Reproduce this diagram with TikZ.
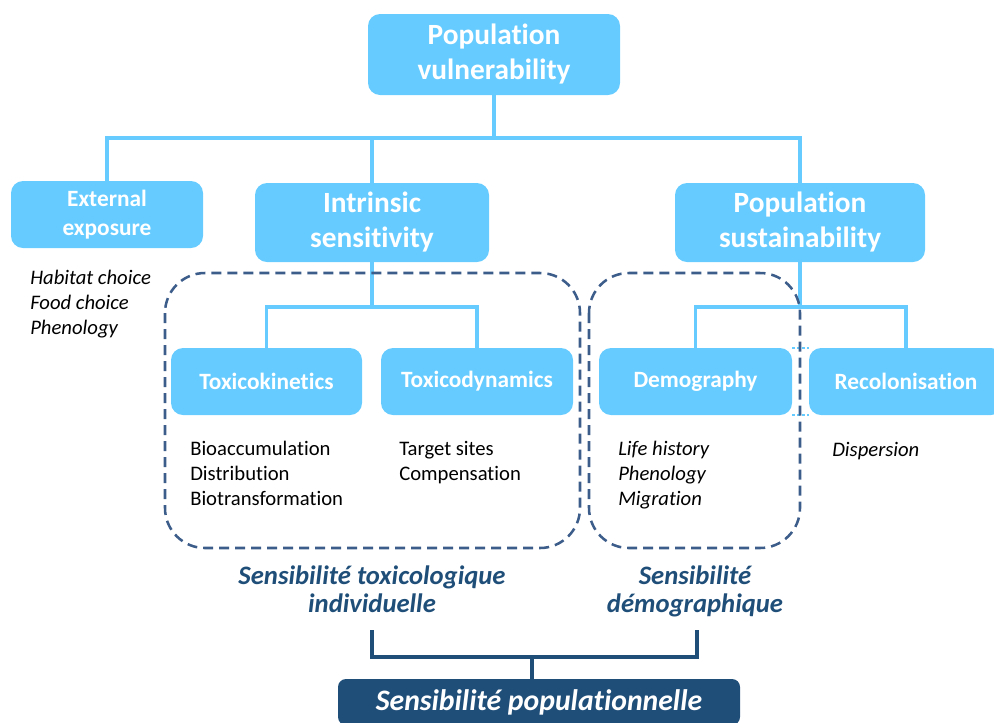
\documentclass[tikz,border=0pt]{standalone}
\usepackage{fontspec}
\setmainfont{Carlito}[Ligatures=NoCommon]
\definecolor{lb}{RGB}{102,204,255}
\definecolor{db}{RGB}{31,78,121}
\definecolor{dashc}{RGB}{60,92,138}
\begin{document}
\begin{tikzpicture}[x=0.75pt,y=-0.75pt,
  box/.style={fill=lb, draw=none, rounded corners=9pt, text=white, align=center, inner sep=0pt},
  bigtxt/.style={font=\fontsize{22pt}{26.25pt}\selectfont\bfseries},
  midtxt/.style={font=\fontsize{17.5pt}{21.75pt}\selectfont\bfseries},
  conn/.style={draw=lb, line width=2.5pt},
  dashbox/.style={draw=dashc, line width=1.9pt, dash pattern=on 7.5pt off 4.5pt, rounded corners=30pt},
  body/.style={font=\fontsize{15.5pt}{18.4pt}\selectfont, align=left, anchor=base west, inner sep=0pt, text=black},
  ibody/.style={body, font=\fontsize{15.5pt}{18.4pt}\selectfont\itshape},
  lab/.style={font=\fontsize{20pt}{21pt}\selectfont\bfseries\itshape, text=db, align=center, inner sep=0pt},
  br/.style={draw=db, line width=2.4pt},
  dotc/.style={draw=lb, line width=1.8pt, dotted}
]
\useasboundingbox (0,0) rectangle (994,722);
\clip (0,0) rectangle (994,722);

% main boxes
\node[box, bigtxt, minimum width=189pt, minimum height=60.75pt] (top) at (494,54.5) {Population\\vulnerability};
\node[box, midtxt, minimum width=144pt, minimum height=50.25pt] (ext) at (107,214.5) {External\\exposure};
\node[box, bigtxt, minimum width=175.5pt, minimum height=59.25pt] (intr) at (372,222.5) {Intrinsic\\sensitivity};
\node[box, bigtxt, minimum width=187.5pt, minimum height=59.25pt] (sust) at (800,222.5) {Population\\sustainability};
\node[box, midtxt, minimum width=143.25pt, minimum height=50.25pt] (tk) at (266.5,381.5) {Toxicokinetics};
\node[box, midtxt, minimum width=144pt, minimum height=50.25pt] (td) at (477,381.5) {Toxicodynamics};
\node[box, midtxt, minimum width=144.75pt, minimum height=50.25pt] (dem) at (695.5,381.5) {Demography};
\node[box, midtxt, minimum width=145.5pt, minimum height=50.25pt] (rec) at (906,381.5) {Recolonisation};

% connectors
\coordinate (j1) at (494,138);
\draw[conn] (top.south) -- (j1);
\draw[conn] (ext.north) |- (j1) -| (sust.north);
\draw[conn] (intr.north) -- (intr.north |- j1);
\coordinate (j2) at (372,307);
\draw[conn] (intr.south) -- (j2);
\draw[conn] (tk.north) |- (j2) -| (td.north);
\coordinate (j3) at (800,307);
\draw[conn] (sust.south) -- (j3);
\draw[conn] (dem.north) |- (j3) -| (rec.north);
\draw[dotc] (dem.north east) -- (rec.north west);
\draw[dotc] (dem.south east) -- (rec.south west);

% dashed groups
\draw[dashbox] (165,273) rectangle (580,548);
\draw[dashbox] (589,273) rectangle (800,548);

% lists (base = last line)
\node[ibody] (l1) at (30,334) {Habitat choice\\Food choice\\Phenology};
\node[body] (l2) at (190,505) {Bioaccumulation\\Distribution\\Biotransformation};
\node[body] (l3) at (399,480.5) {Target sites\\Compensation};
\node[ibody] (l4) at (618,505) {Life history\\Phenology\\Migration};
\node[ibody] (l5) at (832,456) {Dispersion};

% group labels
\node[lab, anchor=base] (g1) at (372,612) {Sensibilité toxicologique\\individuelle};
\node[lab, anchor=base] (g2) at (695,612) {Sensibilité\\démographique};

% bottom
\node[fill=db, rounded corners=6pt, minimum width=301.5pt, minimum height=34.5pt, inner sep=0pt, text=white, font=\fontsize{22.3pt}{24pt}\selectfont\bfseries\itshape] (bot) at (539,702) {Sensibilité populationnelle};
\coordinate (b1) at (372,630);
\coordinate (b2) at (697,630);
\coordinate (bm) at (532,657);
\draw[br] (b1) |- (bm) -| (b2);
\draw[br] (bm) -- (bm |- bot.north);
\end{tikzpicture}
\end{document}
